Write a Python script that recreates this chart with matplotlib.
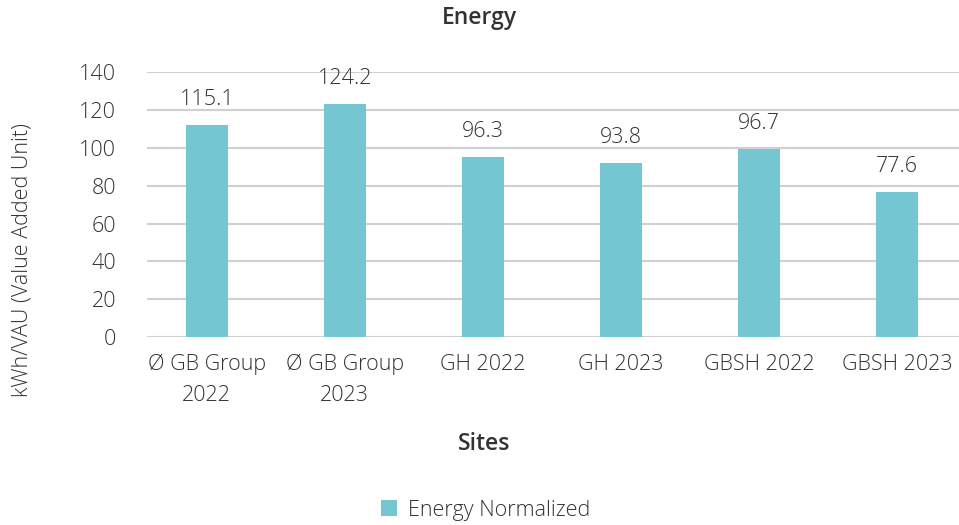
import matplotlib.pyplot as plt

# bar heights as drawn, labels as printed in the chart
sites = ["Ø GB Group\n2022", "Ø GB Group\n2023", "GH 2022", "GH 2023",
         "GBSH 2022", "GBSH 2023"]
energy = [112.3, 123.4, 95.3, 92.2, 99.6, 76.8]
labels = ["115.1", "124.2", "96.3", "93.8", "96.7", "77.6"]
yticks = [0, 20, 40, 60, 80, 100, 120, 140]

plt.rcParams['font.family'] = ['Open Sans', 'DejaVu Sans']
text_col = "#333333"
bar_col = "#74C6D0"
fs = 15.5

fig = plt.figure(figsize=(9.59, 5.25), dpi=100)
ax = fig.add_axes([0.153, 0.358, 0.847, 0.504])

x = list(range(len(sites)))
ax.bar(x, energy, width=0.30, color=bar_col, label="Energy Normalized", zorder=2)
for xi, h, lab in zip(x, energy, labels):
    ax.annotate(lab, (xi, h), xytext=(0, 11), textcoords="offset points",
                ha="center", va="bottom", fontsize=fs, color=text_col,
                fontweight="light")

ax.set_xlim(-0.4355, 5.45)
ax.set_ylim(0, 140)
ax.set_yticks(yticks)
ax.set_xticks(x)
ax.set_xticklabels(sites, fontsize=fs, color=text_col, linespacing=1.65,
                   fontweight="light")
ax.set_yticklabels([str(v) for v in yticks], fontsize=fs, color=text_col,
                   fontweight="light")
ax.tick_params(axis="y", length=0, pad=22)
ax.tick_params(axis="x", length=0, pad=12)
for t in ax.get_xticklabels():
    t.set_verticalalignment("top")
ax.grid(axis="y", color="#D0D0D0", linewidth=1.5, zorder=0)
for s in ax.spines.values():
    s.set_visible(False)

fig.text(0.5, 0.965, "Energy", ha="center", va="center", fontsize=16.5,
         fontweight="semibold", color=text_col)
fig.text(0.505, 0.155, "Sites", ha="center", va="center", fontsize=16.5,
         fontweight="semibold", color=text_col)
fig.text(0.023, 0.505, "kWh/VAU (Value Added Unit)", rotation=90,
         ha="center", va="center", fontsize=fs, color=text_col,
         fontweight="light")

fig.legend(loc="center", bbox_to_anchor=(0.506, 0.028), frameon=False,
           prop={"size": fs, "weight": "light"}, handlelength=0.75,
           handleheight=0.75, handletextpad=0.5, labelcolor=text_col)

fig.savefig("out.png", dpi=100)
